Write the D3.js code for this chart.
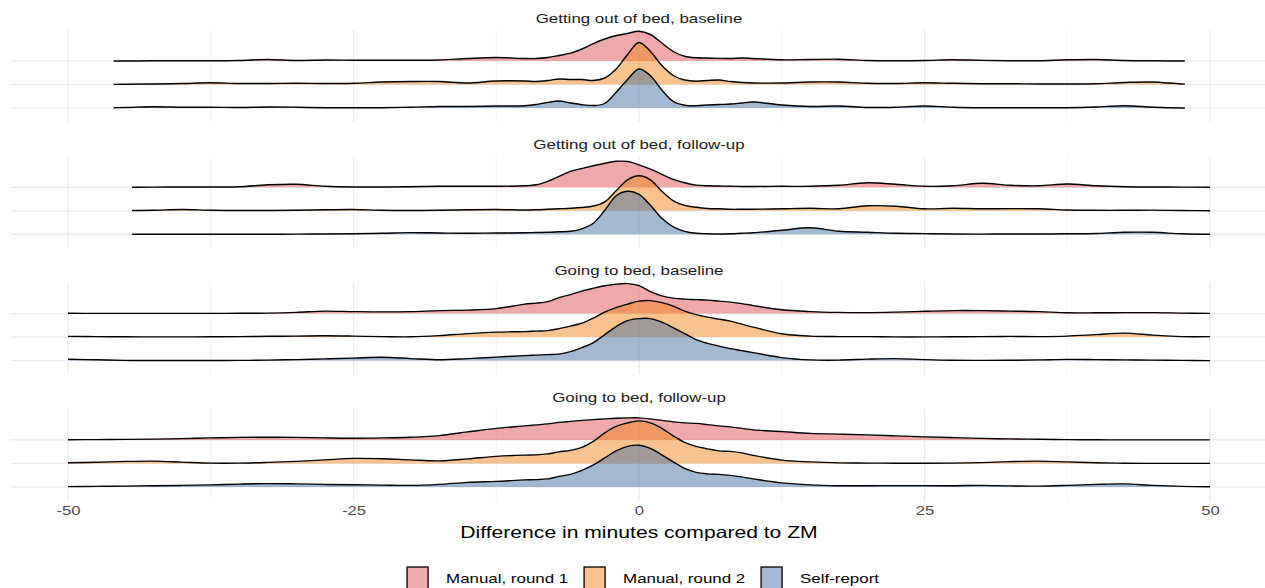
<!DOCTYPE html>
<html lang="en">
<head>
<meta charset="UTF-8">
<title>Ridgelines</title>
<script src="https://cdn.jsdelivr.net/npm/d3@7/dist/d3.min.js"></script>
<style>
    body { margin: 0; background: #fff; }
    svg { display: block; font-family: "Liberation Sans", Arial, sans-serif; }
    .grid line { stroke: #ebebeb; }
    .ridge-line { fill: none; stroke: #000; stroke-width: 1.4; }
    .x-axis text { fill: #4d4d4d; font-size: 13px; }
</style>
</head>
<body>
<svg width="1265" height="588"></svg>
<script>

    // sample positions (minutes) where ridge heights were read
    var gridX = [-50, -47.5, -45, -42.5, -40, -37.5, -35, -32.5, -30, -27.5, -25, -22.5, -20, -17.5, -15, -12.5, -10,
                 -9, -8, -7, -6, -5, -4, -3, -2, -1, 0, 1, 2, 3, 4, 5, 6, 7, 8, 9,
                 10, 12.5, 15, 17.5, 20, 22.5, 25, 27.5, 30, 32.5, 35, 37.5, 40, 42.5, 45, 47.5, 50];

    var groups = ['Manual, round 1', 'Manual, round 2', 'Self-report'];
    var facets = ['Getting out of bed, baseline', 'Getting out of bed, follow-up',
                  'Going to bed, baseline', 'Going to bed, follow-up'];
    var facetRange = [[-46, 47.8], [-44.4, 50], [-50, 50], [-50, 50]];
    var xTicks = [-50, -25, 0, 25, 50];
    var xMinor = [-37.5, -12.5, 12.5, 37.5];

    // relative density heights
    var upBaseManual1 = [0, 0, 0, 0.2, 0.3, 0.3, 0.5, 1.5, 0.5, 1, 0.8, 0.8, 0.8, 1, 2.5, 3.5, 2.5,
        2.5, 3.5, 5.5, 7.8, 12, 17.3, 22, 25.5, 27.5, 29.7, 26.5, 18, 9.5, 4.7, 3.2, 3, 2.6, 2.5, 3,
        2.5, 1.2, 1.5, 1.8, 0.5, 0.3, 0.5, 1.3, 0.6, 0.3, 0.3, 1.2, 1.5, 0.5, 0.2, 0, 0];
    var upBaseManual2 = [0, 0, 0.3, 0.5, 1, 1.7, 1, 1, 1.3, 1, 1.3, 2.5, 3, 3, 1.5, 3.5, 3.5,
        3, 4, 5.5, 5, 5, 4, 6.5, 15.5, 30, 42, 33, 19, 9, 4.5, 3.3, 4, 4.5, 3, 2,
        1.5, 1.5, 2.5, 2.5, 1.2, 1, 1.7, 1.2, 0.8, 0.8, 0.5, 0.5, 0.8, 2, 2.5, 0.5, 0];
    var upBaseSelf = [0, 0, 0.5, 1.3, 0.8, 0.8, 0.5, 1, 0.8, 0.3, 0.3, 0.3, 0.8, 1.5, 1.5, 2, 2.3,
        3.5, 5.5, 7, 5, 3.3, 2.5, 4.5, 15.7, 28.5, 39, 32.3, 18, 6.5, 2.8, 2.3, 3, 3.5, 4, 5,
        6, 3, 1.5, 2, 0.5, 0.8, 2, 0.8, 0.3, 0.3, 0.3, 0.3, 1, 2.3, 0.8, 0, 0];

    var upFollowManual1 = [0, 0, 0, 0.2, 0.3, 0.3, 0.5, 2.5, 3, 1, 0.3, 0.3, 0.5, 1, 1, 1, 1.5,
        2.5, 6, 11, 16, 18.8, 21.5, 24, 26, 25.8, 22.5, 18.2, 13, 8, 4.5, 2.2, 1.5, 1.3, 1, 0.8,
        0.8, 1, 1, 2, 4.5, 3, 1, 1.5, 4, 2, 1.5, 3.3, 1.5, 0.5, 0.3, 0.2, 0];
    var upFollowManual2 = [0, 0, 0.2, 0.5, 1.3, 0.5, 0.3, 0.3, 0.5, 1, 1.3, 0.5, 0.3, 0.5, 1, 1.3, 0.8,
        1, 1.5, 2, 2.5, 3.3, 4.8, 9, 20, 31, 35, 31, 19.5, 10, 5.5, 3.5, 2.3, 2, 1.5, 1.5,
        1.5, 2, 2.5, 2, 5, 4.5, 2, 2.5, 2, 2.2, 2, 0.8, 0.5, 0.5, 0.7, 0.3, 0];
    var upFollowSelf = [0, 0, 0, 0, 0, 0, 0, 0, 0.2, 0.3, 0.5, 1, 1.7, 1.3, 1, 1.3, 1.5,
        1.8, 2, 2.5, 3, 5.5, 11, 24, 38.5, 43, 40, 29, 16, 7.5, 3, 1, 0.5, 0.3, 0.5, 1,
        1.5, 4, 6.5, 3, 2, 1, 0.7, 0.3, 0.2, 0.3, 0.3, 0.5, 0.8, 2, 2, 0.5, 0];

    var bedBaseManual1 = [0.3, 0.2, 0.2, 0.2, 0.2, 0.2, 0.3, 0.5, 1.2, 2.5, 2, 1.7, 2, 3, 3.5, 5, 9.5,
        10.5, 12, 16, 19, 22.5, 25.3, 27.8, 29.5, 30, 28, 22, 17.8, 15.5, 14.5, 14, 13.5, 12.5, 11.5, 10,
        8, 3.8, 2, 1.2, 1, 1.5, 2.3, 3, 3, 2.5, 2, 0.8, 0.8, 1, 1, 0.5, 0.2];
    var bedBaseManual2 = [0.7, 0.5, 0.3, 0.2, 0.2, 0.3, 0.5, 0.8, 1, 1.3, 1, 0.5, 0.3, 1.5, 3.5, 5, 5.5,
        6, 6.5, 8.5, 11, 14, 19, 25, 29.5, 33, 36, 36.5, 34.5, 31, 26, 22.5, 20, 18, 16, 13,
        10, 3.3, 1, 0.5, 0.5, 0.2, 0.2, 0.3, 0.5, 0.7, 0.5, 1, 2.5, 4, 2, 0.5, 0.5];
    var bedBaseSelf = [1.3, 0.8, 0.2, 0.1, 0.1, 0.1, 0.2, 0.5, 1, 1.7, 2.5, 3.3, 2, 0.8, 2, 3.5, 5,
        5.5, 6, 6.5, 9, 13, 18, 26, 34, 40, 42, 42, 38.5, 33, 27, 21, 17.3, 14.5, 12, 10,
        8, 3, 0.7, 0.5, 1.5, 2, 1, 0.3, 0.2, 0.3, 0.7, 1.2, 1, 0.7, 0.5, 0.2, 0];

    var bedFollowManual1 = [0.2, 0.3, 0.5, 0.8, 1.3, 2, 2.5, 2.7, 2.5, 2, 1.7, 2, 2.7, 4.3, 8, 11.5, 14,
        15, 16, 17.5, 18.5, 19.5, 20.3, 21, 21.7, 22, 22, 21, 19.5, 18, 17, 16.5, 15.3, 14, 13, 11.5,
        10, 8.3, 6.5, 5.8, 5, 4, 3, 2.3, 1.5, 1, 0.6, 0.3, 0.1, 0, 0, 0, 0];
    var bedFollowManual2 = [0.7, 1.2, 2, 2.3, 1.3, 0.3, 0.3, 1, 2, 3.5, 5, 4.7, 3.5, 2.5, 4.5, 7, 8.3,
        8.5, 9.5, 11.5, 13, 16, 22, 30.5, 37, 40.5, 42.5, 40.5, 35, 27.5, 21, 17, 14.5, 12.5, 12, 10.5,
        8, 3.3, 1.5, 0.5, 0.3, 0.2, 0.2, 0.3, 0.8, 1.8, 2.3, 1.5, 0.6, 0.2, 0, 0, 0];
    var bedFollowSelf = [0.3, 0.5, 0.8, 1.2, 1.5, 2, 2.8, 3.3, 3, 2.5, 2.2, 1.8, 1.5, 2.5, 4.5, 5.5, 7,
        7.3, 8, 10.5, 12.5, 16.5, 22, 29, 36, 40.5, 41.7, 38.5, 32, 25, 18.5, 14.5, 13, 12.5, 11.5, 10,
        8, 4, 2, 1.2, 1.2, 1.3, 1.3, 1.2, 1.5, 1, 0.8, 1.5, 2.5, 3, 1.5, 0.5, 0.2];

    var facetData = [
        [upBaseManual1, upBaseManual2, upBaseSelf],
        [upFollowManual1, upFollowManual2, upFollowSelf],
        [bedBaseManual1, bedBaseManual2, bedBaseSelf],
        [bedFollowManual1, bedFollowManual2, bedFollowSelf]
    ];

    var svg = d3.select('svg'),
        stretch = 1.28,           // text in the reference is drawn wide
        panelLeft = 11,
        panelRight = 1265,
        firstTop = 30,
        panelStep = 126.3,
        panelHeight = 92;

    var xScale = d3.scaleLinear().domain([-50, 50]).range([68, 1210]),
        yScale = d3.scalePoint().domain(groups).range([31, 78]),
        hScale = d3.scaleLinear().domain([0, 10]).range([0, 10]),
        colorScale = d3.scaleOrdinal().domain(groups).range(['#e05355', '#f1881f', '#4873a3']);

    var ridgeCurve = d3.curveCatmullRom.alpha(0.5);
    var defs = svg.append('defs');

    facets.forEach(function(name, fi) {
        var top = firstTop + fi * panelStep;
        var panel = svg.append('g')
                        .classed('panel', true)
                        .attr('transform', 'translate(0,' + top + ')');

        var grid = panel.append('g').classed('grid', true);
        grid.selectAll('.vmin')
            .data(xMinor).enter().append('line')
            .attr('x1', xScale).attr('x2', xScale)
            .attr('y1', 0).attr('y2', panelHeight)
            .attr('stroke-width', 0.6);
        grid.selectAll('.vmaj')
            .data(xTicks).enter().append('line')
            .attr('x1', xScale).attr('x2', xScale)
            .attr('y1', 0).attr('y2', panelHeight)
            .attr('stroke-width', 1.2);
        grid.selectAll('.hmaj')
            .data(groups).enter().append('line')
            .attr('x1', panelLeft).attr('x2', panelRight)
            .attr('y1', yScale).attr('y2', yScale)
            .attr('stroke-width', 1.2);

        // strip title
        panel.append('text')
            .attr('transform', 'translate(' + xScale(0) + ',-12) scale(' + stretch + ',1)')
            .attr('text-anchor', 'middle')
            .attr('dominant-baseline', 'central')
            .style('font-size', '13.2px')
            .style('fill', '#1a1a1a')
            .text(name);

        var range = facetRange[fi];
        var clipId = 'clip-' + fi;
        defs.append('clipPath').attr('id', clipId)
            .append('rect')
            .attr('x', xScale(range[0]))
            .attr('width', xScale(range[1]) - xScale(range[0]))
            .attr('y', -60)
            .attr('height', panelHeight + 80);

        var ridges = panel.append('g').attr('clip-path', 'url(#' + clipId + ')');

        groups.forEach(function(g, gi) {
            var base = yScale(g);
            var pts = gridX.map(function(x, i) { return [x, facetData[fi][gi][i]]; });

            var area = d3.area()
                .x(function(d) { return xScale(d[0]); })
                .y0(base)
                .y1(function(d) { return base - hScale(d[1]); })
                .curve(ridgeCurve);
            var line = d3.line()
                .x(function(d) { return xScale(d[0]); })
                .y(function(d) { return base - hScale(d[1]); })
                .curve(ridgeCurve);

            ridges.append('path')
                .attr('d', area(pts))
                .style('fill', colorScale(g))
                .style('fill-opacity', 0.5);
            ridges.append('path')
                .classed('ridge-line', true)
                .attr('d', line(pts));
        });
    });

    // x axis
    var axisTop = firstTop + 3 * panelStep + panelHeight;
    var xAxis = d3.axisBottom(xScale).tickValues(xTicks).tickSize(0).tickPadding(5)
                  .tickFormat(function(d) { return String(d); });
    var axisG = svg.append('g')
                   .classed('x-axis', true)
                   .attr('transform', 'translate(0,' + axisTop + ')')
                   .call(xAxis);
    axisG.select('.domain').remove();
    axisG.selectAll('text')
         .attr('font-family', null)
         .attr('transform', 'scale(' + stretch + ',1)');

    svg.append('text')
        .attr('transform', 'translate(' + xScale(0) + ',' + (axisTop + 31) + ') scale(' + stretch + ',1)')
        .attr('text-anchor', 'middle')
        .attr('dominant-baseline', 'central')
        .style('font-size', '16.5px')
        .style('fill', '#000')
        .text('Difference in minutes compared to ZM');

    // legend
    var legend = svg.append('g').classed('legend', true);
    var keyW = 21, keyH = 22, keyGap = 18, itemGap = 16, legendTop = 567;
    var items = legend.selectAll('.legend-item')
                      .data(groups).enter().append('g')
                      .classed('legend-item', true);
    items.append('rect')
        .attr('width', keyW).attr('height', keyH)
        .attr('y', legendTop)
        .style('fill', function(d) { return colorScale(d); })
        .style('fill-opacity', 0.5)
        .style('stroke', '#000')
        .style('stroke-width', 1.3);
    items.append('text')
        .attr('dominant-baseline', 'central')
        .style('font-size', '13.2px')
        .style('fill', '#000')
        .text(function(d) { return d; });

    var widths = [];
    items.select('text').each(function() { widths.push(this.getComputedTextLength() * stretch); });
    var total = d3.sum(widths) + groups.length * (keyW + keyGap) + (groups.length - 1) * itemGap;
    var cursor = 643 - total / 2;
    items.each(function(d, i) {
        var item = d3.select(this);
        item.select('rect').attr('x', cursor);
        item.select('text').attr('transform',
            'translate(' + (cursor + keyW + keyGap) + ',' + (legendTop + keyH / 2) + ') scale(' + stretch + ',1)');
        cursor += keyW + keyGap + widths[i] + itemGap;
    });

</script>
</body>
</html>
